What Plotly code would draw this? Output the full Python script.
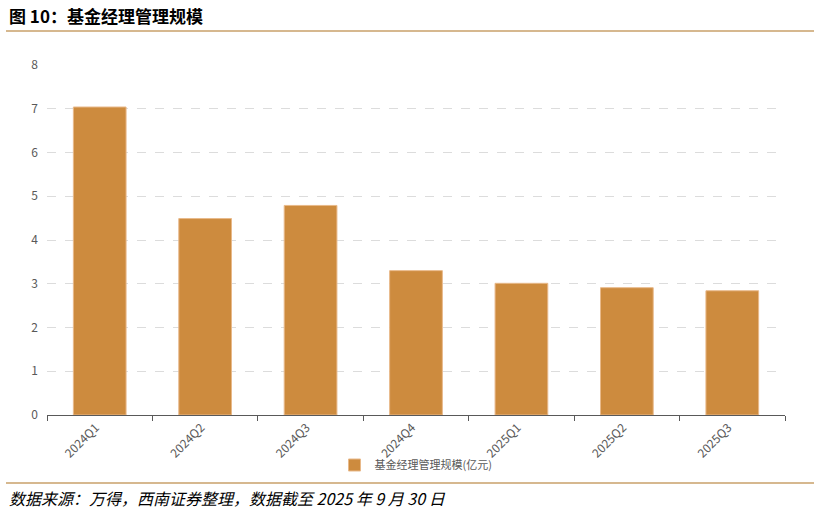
import plotly.graph_objects as go

categories = ["2024Q1", "2024Q2", "2024Q3", "2024Q4", "2025Q1", "2025Q2", "2025Q3"]
values = [7.04, 4.49, 4.79, 3.30, 3.01, 2.91, 2.84]
series_name = "基金经理管理规模(亿元)"
y_ticks = [0, 1, 2, 3, 4, 5, 6, 7, 8]

W, H = 821, 514
L, R, T, B = 47, 36, 65, 99
pw = W - L - R
ph = H - T - B

def px_x(x):
    return (x - L) / pw

def px_y(y):
    return (H - B - y) / ph

fig = go.Figure()
fig.add_trace(go.Bar(
    x=categories, y=values, name=series_name,
    marker=dict(color="#CD8B3E", line=dict(color="#E8B98A", width=1)),
    showlegend=True,
))

font_cjk = "Noto Sans CJK SC, Noto Sans, sans-serif"
fig.update_layout(
    width=W, height=H,
    margin=dict(l=L, r=R, t=T, b=B),
    paper_bgcolor="white", plot_bgcolor="white",
    bargap=0.5,
    font=dict(family=font_cjk, size=12, color="#595959"),
    xaxis=dict(
        type="category", tickangle=-45, showline=True, linecolor="#595959", linewidth=1,
        ticks="outside", tickson="boundaries", ticklen=5, tickcolor="#595959",
        showgrid=False, tickfont=dict(size=12, color="#595959"), ticklabelshift=-4,
    ),
    yaxis=dict(
        range=[0, 8], tickvals=y_ticks, showline=False, zeroline=False,
        showgrid=True, gridcolor="#DCDCDC", griddash="dash", gridwidth=1,
        tickfont=dict(size=12, color="#595959"), ticks="", ticklabelstandoff=8,
    ),
    legend=dict(orientation="h", x=0.5, xanchor="center", y=px_y(465), yanchor="middle",
                font=dict(size=11, color="#595959"), itemwidth=30,
                bgcolor="rgba(0,0,0,0)"),
    showlegend=True,
)

fig.add_annotation(text="<b>图 10：基金经理管理规模</b>", xref="paper", yref="paper",
                   x=px_x(7), y=px_y(15), xanchor="left", yanchor="middle", showarrow=False,
                   font=dict(size=17, color="#000000", family=font_cjk))
fig.add_annotation(text="<i>数据来源：万得，西南证券整理，数据截至 2025 年 9 月 30 日</i>", xref="paper", yref="paper",
                   x=px_x(7), y=px_y(498), xanchor="left", yanchor="middle", showarrow=False,
                   font=dict(size=16, color="#000000", family=font_cjk))
for yy in (31, 483):
    fig.add_shape(type="line", xref="paper", yref="paper",
                  x0=px_x(6), x1=px_x(814), y0=px_y(yy), y1=px_y(yy),
                  line=dict(color="#C9A06A", width=1.5))

fig.write_html("out.html", config={"displayModeBar": False},
               post_script="document.body.style.margin='0px';")
